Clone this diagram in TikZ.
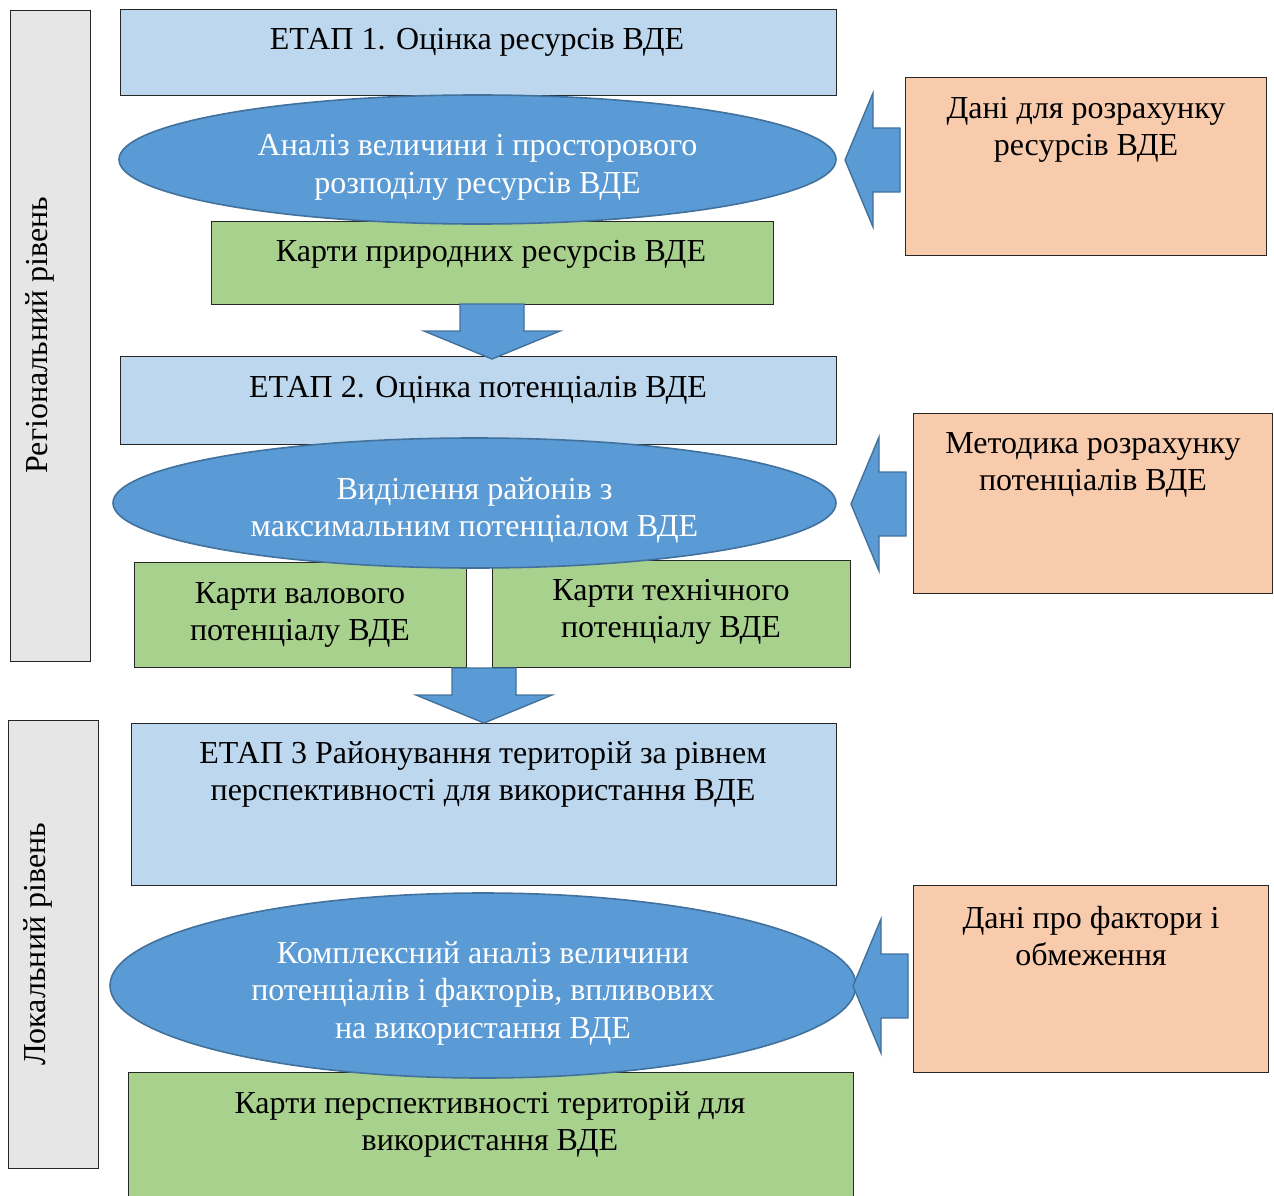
\documentclass[tikz,border=0pt]{standalone}
\usepackage{fontspec}
\setmainfont{Liberation Serif}
\usetikzlibrary{shapes.geometric,calc}
\definecolor{lblue}{HTML}{BDD7EE}
\definecolor{mblue}{HTML}{5B9BD5}
\definecolor{bblue}{HTML}{41719C}
\definecolor{lgreen}{HTML}{A9D18E}
\definecolor{lorange}{HTML}{F8CBAD}
\definecolor{lgray}{HTML}{E6E6E6}
\definecolor{edge}{HTML}{262626}
\newcommand\LeftBlockArrow[1]{\draw[barrow] (#1) -- ++(28,67) -- ++(0,-35) -- ++(27,0) -- ++(0,-64) -- ++(-27,0) -- ++(0,-35) -- cycle;}
\newcommand\DownBlockArrow[1]{\draw[barrow] (#1) -- ++(-68,28) -- ++(36,0) -- ++(0,27) -- ++(64,0) -- ++(0,-27) -- ++(36,0) -- cycle;}
\newcommand\TopStrut{\rule{0pt}{37pt}}
\begin{document}
\begin{tikzpicture}[x=1pt,y=1pt,
  box/.style={draw=edge,line width=1.2pt,inner sep=0pt,anchor=north west},
  oval/.style={ellipse,draw=bblue,line width=1.6pt,fill=mblue,inner sep=0pt,text=white,align=center,font=\fontsize{32}{37.5}\selectfont},
  txt/.style={inner sep=0pt,anchor=north,align=center,font=\fontsize{32}{37.5}\selectfont},
  barrow/.style={fill=mblue,draw=bblue,line width=1.4pt,line join=miter}]
\useasboundingbox (0,0) rectangle (1274,-1196);
% level boxes
\node[box,fill=lgray,minimum width=80,minimum height=651] (lv1) at (10,-10) {};
\node[box,fill=lgray,minimum width=90,minimum height=448] (lv2) at (8,-720) {};
% stage boxes
\node[box,fill=lblue,minimum width=716,minimum height=86] (s1) at (120,-9) {};
\node[box,fill=lblue,minimum width=716,minimum height=88] (s2) at (120,-356) {};
\node[box,fill=lblue,minimum width=705,minimum height=162] (s3) at (131,-723) {};
% result boxes
\node[box,fill=lgreen,minimum width=562,minimum height=83] (g1) at (211,-221) {};
\node[box,fill=lgreen,minimum width=332,minimum height=105] (g2a) at (134,-562) {};
\node[box,fill=lgreen,minimum width=358,minimum height=107] (g2b) at (492,-560) {};
\node[box,fill=lgreen,minimum width=725,minimum height=132] (g3) at (128,-1072) {};
% input boxes
\node[box,fill=lorange,minimum width=361,minimum height=178] (o1) at (905,-77) {};
\node[box,fill=lorange,minimum width=359,minimum height=180] (o2) at (913,-413) {};
\node[box,fill=lorange,minimum width=355,minimum height=187] (o3) at (913,-885) {};
% ellipses
\node[oval,minimum width=717,minimum height=129] (e1) at (477.5,-159.5) {\TopStrut Аналіз величини і просторового\\розподілу ресурсів ВДЕ};
\node[oval,minimum width=723,minimum height=130] (e2) at (474.5,-503) {\TopStrut Виділення районів з\\максимальним потенціалом ВДЕ};
\node[oval,minimum width=746,minimum height=185] (e3) at (483,-985.5) {\TopStrut Комплексний аналіз величини\\потенціалів і факторів, впливових\\на використання ВДЕ};
% block arrows
\coordinate (d1) at (492,-359);
\coordinate (d2) at (484,-723);
\coordinate (a1) at (845,-160);
\coordinate (a2) at (851,-504);
\coordinate (a3) at (853,-986);
\DownBlockArrow{d1}
\DownBlockArrow{d2}
\LeftBlockArrow{a1}
\LeftBlockArrow{a2}
\LeftBlockArrow{a3}
% texts
\node[txt,rotate=90,anchor=center] (tl1) at (40,-335) {Регіональний рівень};
\node[txt,rotate=90,anchor=center] (tl2) at (38,-944) {Локальний рівень};
\node[txt] (ts1) at (477,-28) {ЕТАП 1. Оцінка ресурсів ВДЕ};
\node[txt] (tg1) at (491,-240) {Карти природних ресурсів ВДЕ};
\node[txt] (ts2) at (478,-376) {ЕТАП 2. Оцінка потенціалів ВДЕ};
\node[txt] (tg2a) at (300,-582) {Карти валового\\потенціалу ВДЕ};
\node[txt] (tg2b) at (671,-579) {Карти технічного\\потенціалу ВДЕ};
\node[txt] (ts3) at (483,-741) {ЕТАП 3 Районування територій за рівнем\\перспективності для використання ВДЕ};
\node[txt] (tg3) at (490,-1091) {Карти перспективності територій для\\використання ВДЕ};
\node[txt] (to1) at (1086,-97) {Дані для розрахунку\\ресурсів ВДЕ};
\node[txt] (to2) at (1093,-432) {Методика розрахунку\\потенціалів ВДЕ};
\node[txt] (to3) at (1091,-906) {Дані про фактори і\\обмеження};
\end{tikzpicture}
\end{document}
